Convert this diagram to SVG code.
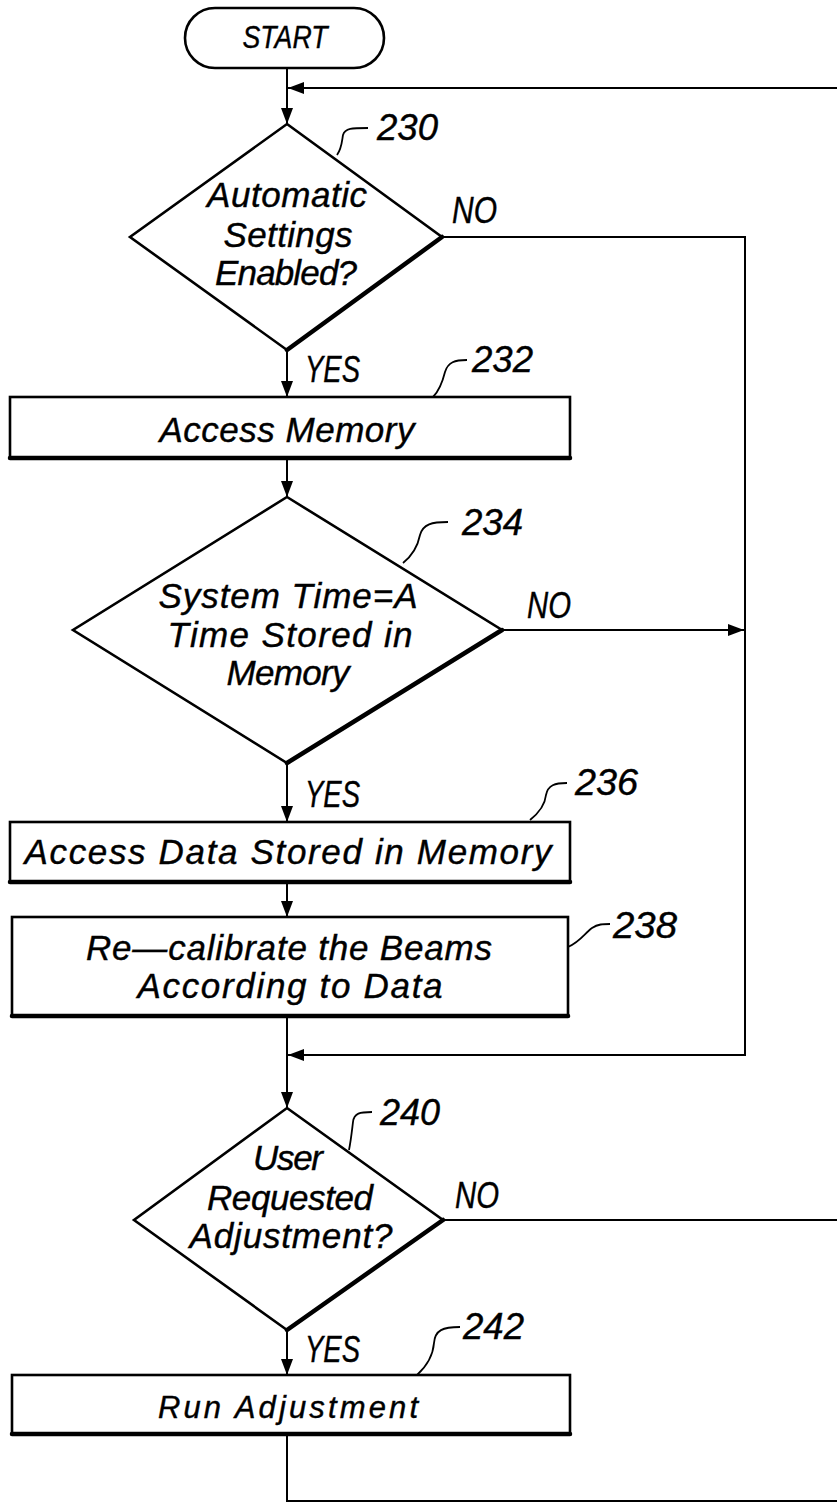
<svg xmlns="http://www.w3.org/2000/svg" width="837" height="1504" viewBox="0 0 837 1504">
<style>
.ln{fill:none;stroke:#000;stroke-width:2}
.sh{fill:none;stroke:#000;stroke-width:2.6}
.th{fill:none;stroke:#000;stroke-width:4.5;stroke-linecap:round}
.ld{fill:none;stroke:#000;stroke-width:1.8}
text{font-family:"Liberation Sans",Arial,sans-serif;font-style:italic;fill:#000;stroke:#000;stroke-width:0.4}
.t{font-size:35px;text-anchor:middle}
.s{font-size:31px;text-anchor:middle}
.lb{font-size:36px}
.rf{font-size:36px}
</style>
<defs>
<marker id="ah" viewBox="0 0 16 12" refX="16" refY="6" markerWidth="16" markerHeight="12" markerUnits="userSpaceOnUse" orient="auto">
<path d="M0,0 L16,6 L0,12 Z" fill="#000"/>
</marker>
</defs>
<rect width="837" height="1504" fill="#fff"/>

<g id="connectors">
<line class="ln" x1="287" y1="68" x2="287" y2="124" marker-end="url(#ah)"/>
<line class="ln" x1="837" y1="88" x2="288" y2="88" marker-end="url(#ah)"/>
<polyline class="ln" points="442,237 745,237 745,1055 288,1055" marker-end="url(#ah)"/>
<line class="ln" x1="502" y1="630" x2="744" y2="630" marker-end="url(#ah)"/>
<line class="ln" x1="287" y1="350" x2="287" y2="397" marker-end="url(#ah)"/>
<line class="ln" x1="287" y1="458" x2="287" y2="497" marker-end="url(#ah)"/>
<line class="ln" x1="287" y1="763" x2="287" y2="822" marker-end="url(#ah)"/>
<line class="ln" x1="287" y1="882" x2="287" y2="917" marker-end="url(#ah)"/>
<line class="ln" x1="287" y1="1016" x2="287" y2="1108" marker-end="url(#ah)"/>
<line class="ln" x1="443" y1="1220" x2="837" y2="1220"/>
<line class="ln" x1="287" y1="1330" x2="287" y2="1375" marker-end="url(#ah)"/>
<polyline class="ln" points="287,1434 287,1501 837,1501"/>
<text class="lb" x="305" y="382" textLength="55" lengthAdjust="spacingAndGlyphs">YES</text>
<text class="lb" x="452" y="223" textLength="45" lengthAdjust="spacingAndGlyphs">NO</text>
<text class="lb" x="527" y="618" textLength="44" lengthAdjust="spacingAndGlyphs">NO</text>
<text class="lb" x="305" y="807" textLength="55" lengthAdjust="spacingAndGlyphs">YES</text>
<text class="lb" x="455" y="1208" textLength="44" lengthAdjust="spacingAndGlyphs">NO</text>
<text class="lb" x="305" y="1362" textLength="55" lengthAdjust="spacingAndGlyphs">YES</text>
</g>

<g id="start">
<rect class="sh" x="185" y="8" width="199" height="60" rx="30"/>
<text class="s" x="285" y="48" textLength="85" lengthAdjust="spacingAndGlyphs">START</text>
</g>

<g id="n230">
<polygon class="sh" points="287,124 442,237 287,350 130,237"/>
<line class="th" x1="442" y1="237" x2="287" y2="350"/>
<text class="t" x="287" y="207" textLength="160" lengthAdjust="spacing">Automatic</text>
<text class="t" x="288" y="247" textLength="129" lengthAdjust="spacing">Settings</text>
<text class="t" x="286" y="285" textLength="142" lengthAdjust="spacing">Enabled?</text>
<path class="ld" d="M337 155 C342 148,342 140,343 135 C345 128,352 128,368 128"/>
<text class="rf" x="377" y="140" textLength="61" lengthAdjust="spacingAndGlyphs">230</text>
</g>

<g id="n232">
<rect class="sh" x="10" y="397" width="560" height="61"/>
<line class="th" x1="10" y1="458" x2="570" y2="458"/>
<text class="t" x="287" y="442" textLength="255" lengthAdjust="spacing">Access Memory</text>
<path class="ld" d="M433 397 C440 390,443 380,445 372 C448 362,455 360,467 360"/>
<text class="rf" x="472" y="372" textLength="61" lengthAdjust="spacingAndGlyphs">232</text>
</g>

<g id="n234">
<polygon class="sh" points="287,497 502,630 287,763 73,630"/>
<line class="th" x1="502" y1="630" x2="287" y2="763"/>
<text class="t" x="288" y="608" textLength="259" lengthAdjust="spacing">System Time=A</text>
<text class="t" x="290" y="647" textLength="245" lengthAdjust="spacing">Time Stored in</text>
<text class="t" x="288" y="685" textLength="123" lengthAdjust="spacing">Memory</text>
<path class="ld" d="M403 563 C413 555,418 545,420 535 C423 524,432 522,448 522"/>
<text class="rf" x="462" y="535" textLength="61" lengthAdjust="spacingAndGlyphs">234</text>
</g>

<g id="n236">
<rect class="sh" x="10" y="822" width="560" height="60"/>
<line class="th" x1="10" y1="882" x2="570" y2="882"/>
<text class="t" x="288" y="864" textLength="527" lengthAdjust="spacing">Access Data Stored in Memory</text>
<path class="ld" d="M530 820 C540 812,545 805,546 795 C548 785,555 783,567 783"/>
<text class="rf" x="575" y="795" textLength="63" lengthAdjust="spacingAndGlyphs">236</text>
</g>

<g id="n238">
<rect class="sh" x="12" y="917" width="556" height="99"/>
<line class="th" x1="12" y1="1016" x2="568" y2="1016"/>
<text class="t" x="289" y="960" textLength="406" lengthAdjust="spacing">Re—calibrate the Beams</text>
<text class="t" x="290" y="998" textLength="305" lengthAdjust="spacing">According to Data</text>
<path class="ld" d="M568 947 C580 942,585 933,592 928 C598 924,603 924,610 924"/>
<text class="rf" x="613" y="938" textLength="64" lengthAdjust="spacingAndGlyphs">238</text>
</g>

<g id="n240">
<polygon class="sh" points="287,1108 443,1220 287,1330 134,1220"/>
<line class="th" x1="443" y1="1220" x2="287" y2="1330"/>
<text class="t" x="288" y="1170" textLength="70" lengthAdjust="spacing">User</text>
<text class="t" x="290" y="1210" textLength="166" lengthAdjust="spacing">Requested</text>
<text class="t" x="291" y="1248" textLength="203" lengthAdjust="spacing">Adjustment?</text>
<path class="ld" d="M349 1150 C351 1140,352 1130,353 1122 C354 1113,360 1112,372 1112"/>
<text class="rf" x="380" y="1125" textLength="60" lengthAdjust="spacingAndGlyphs">240</text>
</g>

<g id="n242">
<rect class="sh" x="12" y="1375" width="558" height="59"/>
<line class="th" x1="12" y1="1434" x2="570" y2="1434"/>
<text class="s" x="288" y="1418" textLength="260" lengthAdjust="spacing">Run Adjustment</text>
<path class="ld" d="M417 1375 C428 1365,433 1355,434 1343 C435 1330,443 1327,460 1327"/>
<text class="rf" x="463" y="1339" textLength="61" lengthAdjust="spacingAndGlyphs">242</text>
</g>
</svg>
